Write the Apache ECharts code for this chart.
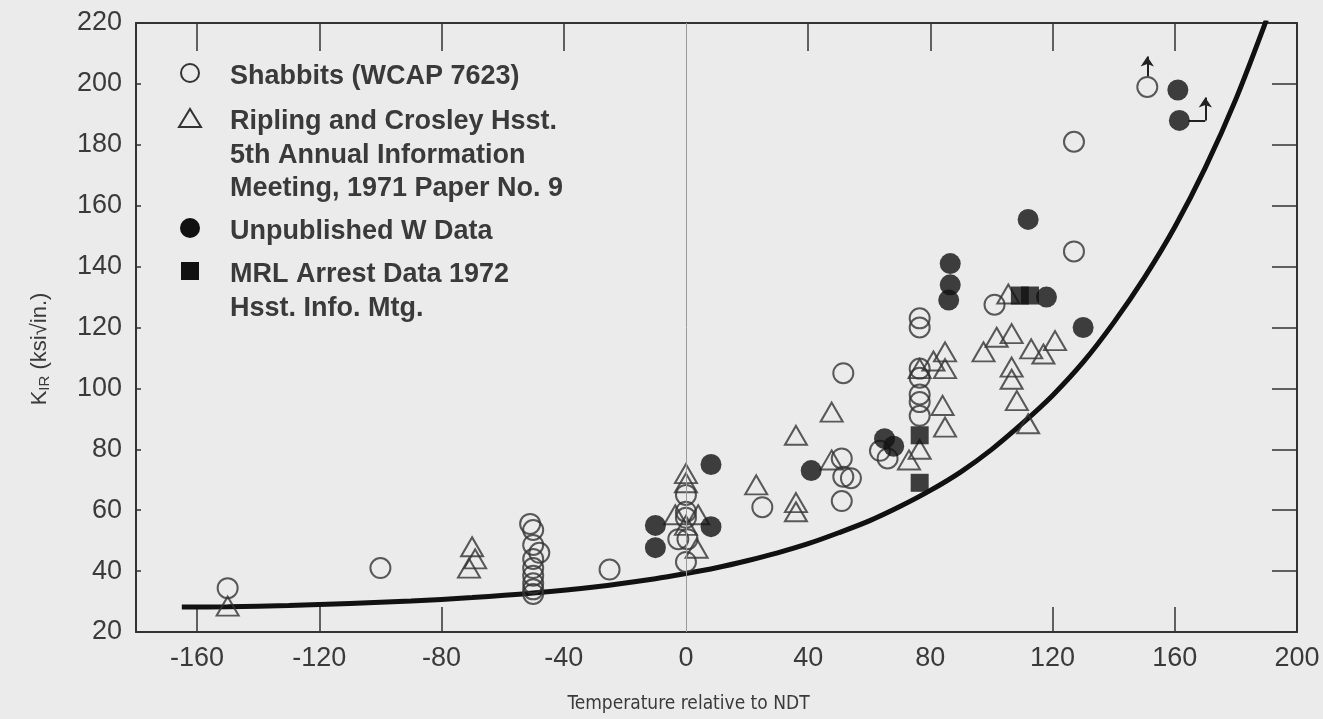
<!DOCTYPE html>
<html>
<head>
<meta charset="utf-8">
<script src="https://cdn.jsdelivr.net/npm/echarts@6/dist/echarts.min.js"></script>
<style>
html,body{margin:0;padding:0;background:#ebebeb;}
#chart{width:1323px;height:719px;}
</style>
</head>
<body>
<div id="chart"></div>
<script>
// ---- data ----
const xLabelValues = [-160, -120, -80, -40, 0, 40, 80, 120, 160, 200];
const xBottomTicks = [-160, -120, -80, 120, 160];
const xTopTicks = [-160, -120, -80, -40, 40, 80, 120, 160];

const shabbits = [
  [-150, 34.4], [-100, 41],
  [-51, 55.5], [-50, 53.5], [-50, 48.6], [-48, 46], [-50, 44], [-50, 41], [-50, 38.5], [-50, 36], [-50, 34], [-50, 32.5],
  [-25, 40.5],
  [0, 65], [0, 59.5], [0, 57.5], [-2.5, 50.5], [0.5, 50.5], [0, 43],
  [25, 61],
  [51.5, 105], [51, 77], [51.5, 71], [54, 70.5], [51, 63],
  [63.5, 79.5], [66, 77],
  [76.5, 123], [76.5, 120], [76.5, 106.5], [76.5, 103.5], [76.5, 98], [76.5, 95.5], [76.5, 91],
  [101, 127.5],
  [127, 145], [127, 181],
  [151, 199]
];
const ripling = [
  [-150, 28.5],
  [-70, 48], [-69, 44], [-71, 41],
  [0, 72], [0, 69], [-3.5, 58.5], [4, 58.5], [0, 55], [3.5, 47.5],
  [23, 68.3],
  [36, 84.6], [36, 62.5], [36, 59.5],
  [47.7, 92.2], [47.7, 76.5],
  [73, 76.5], [76.5, 106.5], [76.5, 80],
  [81, 109], [84.8, 112], [84.8, 106.5], [84, 94.4], [84.8, 87.3],
  [97.4, 112], [101.7, 116.8], [106.6, 118], [105.5, 131],
  [113, 113], [117, 111.3], [120.8, 115.7],
  [106.6, 107], [106.6, 103], [108.3, 96], [112, 88.4]
];
const unpublished = [
  [-10, 55], [-10, 47.7], [8.2, 54.6], [8.2, 75],
  [41, 73],
  [65, 83.5], [68, 81],
  [86.5, 141], [86.5, 134], [86, 129],
  [112, 155.5], [118, 130], [130, 120],
  [161, 198], [161.5, 188]
];
const mrl = [
  [76.5, 84.6], [76.5, 69], [109.3, 130.5], [112.6, 130.5]
];
const curve = [
  [-165, 28.2], [-150, 28.3], [-130, 28.7], [-110, 29.4], [-90, 30.2], [-70, 31.3],
  [-50, 32.8], [-30, 34.8], [-10, 37.5], [0, 39.2], [10, 41.1], [20, 43.4], [30, 46.0],
  [40, 49.0], [50, 52.6], [60, 56.5], [70, 61.2], [80, 66.5], [90, 72.6], [100, 79.9],
  [110, 88.4], [120, 97.7], [130, 108.6], [140, 121.6], [150, 136.3], [160, 153.0],
  [170, 172.5], [180, 195], [190, 221]
];
// annotation arrows: plain segments and arrow-headed segments
const arrowPlain = [
  [[164.5, 188], [170, 188]]
];
const arrowHeads = [
  [[151, 202.5], [151, 209]],
  [[170, 188], [170, 195.5]]
];
const legendNames = [
  'Shabbits (WCAP 7623)',
  'Ripling and Crosley Hsst.\n5th Annual Information\nMeeting, 1971 Paper No. 9',
  'Unpublished W Data',
  'MRL Arrest Data 1972\nHsst. Info. Mtg.'
];

// ---- chart ----
const FONT = '"Liberation Sans", Arial, Helvetica, sans-serif';
const INK = '#333333';
const chart = echarts.init(document.getElementById('chart'));

const legendRows = [75, 120, 230, 273];
const gfx = [];
gfx.push({type:'circle', shape:{cx:190, cy:73, r:9}, style:{fill:'none', stroke:INK, lineWidth:2}});
gfx.push({type:'polygon', shape:{points:[[179,127],[201,127],[190,109]]}, style:{fill:'none', stroke:INK, lineWidth:2}});
gfx.push({type:'circle', shape:{cx:190, cy:228, r:10}, style:{fill:'#111'}});
gfx.push({type:'rect', shape:{x:181, y:262, width:18, height:18}, style:{fill:'#111'}});
legendNames.forEach(function(name, i){
  gfx.push({type:'text', left:230, top:legendRows[i] - 15,
    style:{text:name, font:'bold 27px ' + FONT, fill:'#3a3a3a', lineHeight:33.5}});
});

const option = {
  backgroundColor: '#ebebeb',
  animation: false,
  grid: {left:136, right:26, top:23, bottom:85, containLabel:false},
  xAxis: [{
    type:'value', min:-180, max:200, position:'bottom',
    name:'Temperature relative to NDT', nameLocation:'middle', nameGap:63,
    nameTextStyle:{fontFamily:'"Liberation Sans Narrow", "DejaVu Sans Condensed", ' + FONT, fontSize:19, color:'#3a3a3a', padding:[0,56,0,0]},
    axisLine:{show:true, onZero:false, lineStyle:{color:INK, width:2}},
    axisTick:{show:true, inside:true, length:25, customValues:xBottomTicks, lineStyle:{color:INK, width:1.5}},
    axisLabel:{customValues:xLabelValues, fontFamily:FONT, fontSize:27, color:'#3a3a3a', margin:13},
    splitLine:{show:false}
  },{
    type:'value', min:-180, max:200, position:'top',
    axisLine:{show:true, onZero:false, lineStyle:{color:INK, width:2}},
    axisTick:{show:true, inside:true, length:28, customValues:xTopTicks, lineStyle:{color:INK, width:1.5}},
    axisLabel:{show:false},
    splitLine:{show:false}
  }],
  yAxis: [{
    type:'value', min:20, max:220, interval:20, position:'left',
    name:'{k|K}{s|IR}{k| (ksi√in.)}', nameLocation:'middle', nameGap:84, nameRotate:90,
    nameTextStyle:{fontFamily:FONT, color:'#3a3a3a', padding:[0,0,0,-43],
      rich:{k:{fontSize:22, fontFamily:FONT, color:'#3a3a3a'}, s:{fontSize:15, fontFamily:FONT, color:'#3a3a3a', verticalAlign:'bottom', padding:[9,0,0,0]}}},
    axisLine:{show:true, onZero:false, lineStyle:{color:INK, width:2}},
    axisTick:{show:true, inside:true, length:5, lineStyle:{color:INK, width:1.5}},
    axisLabel:{fontFamily:FONT, fontSize:27, color:'#3a3a3a', margin:14},
    splitLine:{show:false}
  },{
    type:'value', min:20, max:220, interval:20, position:'right',
    axisLine:{show:true, onZero:false, lineStyle:{color:INK, width:2}},
    axisTick:{show:true, inside:true, length:25, lineStyle:{color:INK, width:1.5}},
    axisLabel:{show:false},
    splitLine:{show:false}
  }],
  graphic: gfx,
  series: [
    {
      name:'zero', type:'line', data:[], silent:true,
      markLine:{silent:true, symbol:'none', label:{show:false},
        lineStyle:{color:'#9a9a9a', width:1, type:'solid'}, data:[{xAxis:0}]}
    },
    {
      name:'KIR curve', type:'line', data:curve, smooth:0.3, symbol:'none', clip:true,
      lineStyle:{color:'#111', width:5}, z:3
    },
    {
      name:legendNames[0], type:'scatter', data:shabbits, symbol:'circle', symbolSize:20, z:4,
      itemStyle:{color:'rgba(0,0,0,0)', borderColor:INK, borderWidth:2}
    },
    {
      name:legendNames[1], type:'scatter', data:ripling, symbol:'triangle', symbolSize:[22,19], z:4,
      itemStyle:{color:'rgba(0,0,0,0)', borderColor:INK, borderWidth:2}
    },
    {
      name:legendNames[2], type:'scatter', data:unpublished, symbol:'circle', symbolSize:21, z:5,
      itemStyle:{color:'#111'}
    },
    {
      name:legendNames[3], type:'scatter', data:mrl, symbol:'rect', symbolSize:18, z:5,
      itemStyle:{color:'#111'}
    },
    {
      name:'arrow stems', type:'lines', coordinateSystem:'cartesian2d', z:5,
      symbol:['none','none'],
      lineStyle:{color:'#222', width:2, opacity:1, curveness:0},
      data: arrowPlain.map(function(c){ return {coords:c}; })
    },
    {
      name:'arrow heads', type:'lines', coordinateSystem:'cartesian2d', z:5,
      symbol:['none','arrow'], symbolSize:[8,10],
      lineStyle:{color:'#222', width:2, opacity:1, curveness:0},
      data: arrowHeads.map(function(c){ return {coords:c}; })
    }
  ]
};
chart.setOption(option);
</script>
</body>
</html>
